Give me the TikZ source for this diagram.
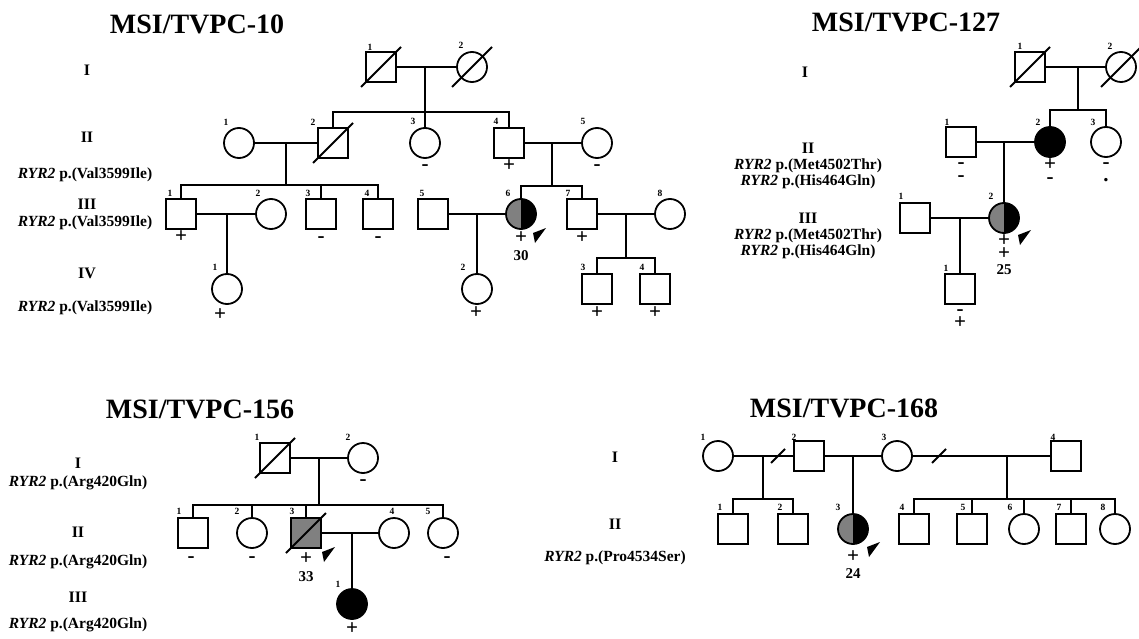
\documentclass[tikz,border=0pt]{standalone}
\usepackage{fontspec}
\setmainfont{Liberation Serif}
\usetikzlibrary{calc}
\definecolor{cgrey}{HTML}{808080}
\newcommand\decd[1]{\draw[ln] ($(#1.center)+(-20,20)$) -- ($(#1.center)+(20,-20)$);}
\newcommand\divs[1]{\draw[ln] ($(#1)+(-7,7)$) -- ($(#1)+(7,-7)$);}
\newcommand\prob[2]{\fill ($(#1)+#2$) -- ++(13,-5) -- ++(-11,15) -- cycle;}
\begin{document}
\begin{tikzpicture}[x=1pt,y=-1pt,
  ln/.style={line width=1.8pt},
  sym/.style={draw, line width=1.8pt, inner sep=0pt, outer sep=0pt, fill=white},
  male/.style={sym, rectangle, minimum size=30pt},
  female/.style={sym, circle, minimum size=30pt},
  aff/.style={fill=black},
  carr/.style={fill=cgrey},
  half/.style={path picture={\fill[cgrey] (path picture bounding box.south west) rectangle (path picture bounding box.north); \fill[black] (path picture bounding box.south) rectangle (path picture bounding box.north east);}},
  idn/.style={font=\bfseries\fontsize{9.5}{9.5}\selectfont, inner sep=0pt},
  mk/.style={font=\bfseries\fontsize{21}{21}\selectfont, inner sep=0pt},
  mk2/.style={font=\bfseries\fontsize{21}{12.5}\selectfont, inner sep=0pt, align=center},
  age/.style={font=\bfseries\fontsize{15}{15}\selectfont, inner sep=0pt},
  gen/.style={font=\bfseries\fontsize{16}{16}\selectfont, inner sep=0pt},
  var/.style={font=\bfseries\fontsize{15.5}{15.5}\selectfont, inner sep=0pt},
  ttl/.style={font=\bfseries\fontsize{28}{28}\selectfont, inner sep=0pt},
]
\fill[white] (0,0) rectangle (1139,639);
\useasboundingbox (0,0) rectangle (1139,639);

% ---------- titles
\node[ttl] (t1) at (197,24) {MSI/TVPC-10};
\node[ttl] (t2) at (906,22) {MSI/TVPC-127};
\node[ttl] (t3) at (200,409) {MSI/TVPC-156};
\node[ttl] (t4) at (844,408) {MSI/TVPC-168};

% ================= TVPC-10
\node[gen] (g1a) at (87,70) {I};
\node[gen] (g1b) at (87,137) {II};
\node[var] (v1b) at (85,175) {\textit{RYR2} p.(Val3599Ile)};
\node[gen] (g1c) at (87,204) {III};
\node[var] (v1c) at (85,223) {\textit{RYR2} p.(Val3599Ile)};
\node[gen] (g1d) at (87,273) {IV};
\node[var] (v1d) at (85,308) {\textit{RYR2} p.(Val3599Ile)};

\node[male] (a1) at (381,67) {};
\node[female] (a2) at (472,67) {};
\node[female] (b1) at (239,143) {};
\node[male] (b2) at (333,143) {};
\node[female] (b3) at (425,143) {};
\node[male] (b4) at (509,143) {};
\node[female] (b5) at (597,143) {};
\node[male] (c1) at (181,214) {};
\node[female] (c2) at (271,214) {};
\node[male] (c3) at (321,214) {};
\node[male] (c4) at (378,214) {};
\node[male] (c5) at (433,214) {};
\node[female,half] (c6) at (521,214) {};
\node[male] (c7) at (582,214) {};
\node[female] (c8) at (670,214) {};
\node[female] (d1) at (227,289) {};
\node[female] (d2) at (477,289) {};
\node[male] (d3) at (597,289) {};
\node[male] (d4) at (655,289) {};

\coordinate (ma) at (425,67); \coordinate (sa) at (425,112);
\draw[ln] (a1) -- (a2); \draw[ln] (ma) -- (sa);
\draw[ln] (b2.north) -- (b2 |- sa) -- (b4 |- sa) -- (b4.north);
\draw[ln] (b3 |- sa) -- (b3.north);
\coordinate (mb) at (286,143); \coordinate (sb) at (286,185);
\draw[ln] (b1) -- (b2); \draw[ln] (mb) -- (sb);
\draw[ln] (c1.north) -- (c1 |- sb) -- (c4 |- sb) -- (c4.north);
\draw[ln] (c3 |- sb) -- (c3.north);
\coordinate (mb2) at (552,143); \coordinate (sb2) at (552,186);
\draw[ln] (b4) -- (b5); \draw[ln] (mb2) -- (sb2);
\draw[ln] (c6.north) -- (c6 |- sb2) -- (c7 |- sb2) -- (c7.north);
\coordinate (mc1) at (227,214);
\draw[ln] (c1) -- (c2); \draw[ln] (mc1) -- (d1.north);
\coordinate (mc2) at (477,214);
\draw[ln] (c5) -- (c6); \draw[ln] (mc2) -- (d2.north);
\coordinate (mc3) at (626,214); \coordinate (sc3) at (626,258);
\draw[ln] (c7) -- (c8); \draw[ln] (mc3) -- (sc3);
\draw[ln] (d3.north) -- (d3 |- sc3) -- (d4 |- sc3) -- (d4.north);
\decd{a1} \decd{a2} \decd{b2}
\prob{c6}{(12,19)}

\node[idn] (a1n) at (370,47) {1};
\node[idn] (a2n) at (461,45) {2};
\node[idn] (b1n) at (226,122) {1};
\node[idn] (b2n) at (313,122) {2};
\node[idn] (b3n) at (413,121) {3};
\node[idn] (b4n) at (496,121) {4};
\node[idn] (b5n) at (583,121) {5};
\node[idn] (c1n) at (170,193) {1};
\node[idn] (c2n) at (258,193) {2};
\node[idn] (c3n) at (308,193) {3};
\node[idn] (c4n) at (367,193) {4};
\node[idn] (c5n) at (422,193) {5};
\node[idn] (c6n) at (508,193) {6};
\node[idn] (c7n) at (568,193) {7};
\node[idn] (c8n) at (660,193) {8};
\node[idn] (d1n) at (215,267) {1};
\node[idn] (d2n) at (463,267) {2};
\node[idn] (d3n) at (583,267) {3};
\node[idn] (d4n) at (642,267) {4};

\node[mk] (b3m) at (425,168) {-};
\node[mk] (b4m) at (509,166) {+};
\node[mk] (b5m) at (597,168) {-};
\node[mk] (c1m) at (181,237) {+};
\node[mk] (c3m) at (321,240) {-};
\node[mk] (c4m) at (378,240) {-};
\node[mk] (c6m) at (521,238) {+};
\node[age] (c6a) at (521,256) {30};
\node[mk] (c7m) at (582,238) {+};
\node[mk] (d1m) at (220,315) {+};
\node[mk] (d2m) at (476,313) {+};
\node[mk] (d3m) at (597,313) {+};
\node[mk] (d4m) at (655,313) {+};

% ================= TVPC-127
\node[gen] (g2a) at (805,72) {I};
\node[gen] (g2b) at (808,148) {II};
\node[var] (v2b1) at (808,166) {\textit{RYR2} p.(Met4502Thr)};
\node[var] (v2b2) at (808,182) {\textit{RYR2} p.(His464Gln)};
\node[gen] (g2c) at (808,218) {III};
\node[var] (v2c1) at (808,236) {\textit{RYR2} p.(Met4502Thr)};
\node[var] (v2c2) at (808,252) {\textit{RYR2} p.(His464Gln)};

\node[male] (e1) at (1030,67) {};
\node[female] (e2) at (1121,67) {};
\node[male] (f1) at (961,142) {};
\node[female,aff] (f2) at (1050,142) {};
\node[female] (f3) at (1106,142) {};
\node[male] (g1) at (915,218) {};
\node[female,half] (g2) at (1004,218) {};
\node[male] (h1) at (960,289) {};

\coordinate (me) at (1078,67); \coordinate (se) at (1078,110);
\draw[ln] (e1) -- (e2); \draw[ln] (me) -- (se);
\draw[ln] (f2.north) -- (f2 |- se) -- (f3 |- se) -- (f3.north);
\coordinate (mf) at (1004,142);
\draw[ln] (f1) -- (f2); \draw[ln] (mf) -- (g2.north);
\coordinate (mg) at (960,218);
\draw[ln] (g1) -- (g2); \draw[ln] (mg) -- (h1.north);
\decd{e1} \decd{e2}
\prob{g2}{(14,17)}

\node[idn] (e1n) at (1020,46) {1};
\node[idn] (e2n) at (1110,46) {2};
\node[idn] (f1n) at (947,122) {1};
\node[idn] (f2n) at (1038,122) {2};
\node[idn] (f3n) at (1093,122) {3};
\node[idn] (g1n) at (901,196) {1};
\node[idn] (g2n) at (991,196) {2};
\node[idn] (h1n) at (946,268) {1};

\node[mk2] (f1m) at (961,172) {-\\-};
\node[mk2] (f2m) at (1050,171) {+\\-};
\node[mk2] (f3m) at (1106,172) {-\\.};
\node[mk2] (g2m) at (1004,247) {+\\+};
\node[age] (g2a) at (1004,270) {25};
\node[mk2] (h1m) at (960,319) {-\\+};

% ================= TVPC-156
\node[gen] (g3a) at (78,463) {I};
\node[var] (v3a) at (78,483) {\textit{RYR2} p.(Arg420Gln)};
\node[gen] (g3b) at (78,532) {II};
\node[var] (v3b) at (78,562) {\textit{RYR2} p.(Arg420Gln)};
\node[gen] (g3c) at (78,597) {III};
\node[var] (v3c) at (78,625) {\textit{RYR2} p.(Arg420Gln)};

\node[male] (i1) at (275,458) {};
\node[female] (i2) at (363,458) {};
\node[male] (j1) at (193,533) {};
\node[female] (j2) at (252,533) {};
\node[male,carr] (j3) at (306,533) {};
\node[female] (j4) at (394,533) {};
\node[female] (j5) at (443,533) {};
\node[female,aff] (k1) at (352,604) {};

\coordinate (mi) at (319,458); \coordinate (si) at (319,505);
\draw[ln] (i1) -- (i2); \draw[ln] (mi) -- (si);
\draw[ln] (j1.north) -- (j1 |- si) -- (j5 |- si) -- (j5.north);
\draw[ln] (j2 |- si) -- (j2.north);
\draw[ln] (j3 |- si) -- (j3.north);
\coordinate (mj) at (352,533);
\draw[ln] (j3) -- (j4); \draw[ln] (mj) -- (k1.north);
\decd{i1} \decd{j3}
\prob{j3}{(16,19)}

\node[idn] (i1n) at (257,437) {1};
\node[idn] (i2n) at (348,437) {2};
\node[idn] (j1n) at (179,511) {1};
\node[idn] (j2n) at (237,511) {2};
\node[idn] (j3n) at (292,511) {3};
\node[idn] (j4n) at (392,511) {4};
\node[idn] (j5n) at (428,511) {5};
\node[idn] (k1n) at (338,584) {1};

\node[mk] (i2m) at (363,483) {-};
\node[mk] (j1m) at (191,560) {-};
\node[mk] (j2m) at (252,560) {-};
\node[mk] (j3m) at (306,559) {+};
\node[age] (j3a) at (306,577) {33};
\node[mk] (j5m) at (447,560) {-};
\node[mk] (k1m) at (352,629) {+};

% ================= TVPC-168
\node[gen] (g4a) at (615,457) {I};
\node[gen] (g4b) at (615,524) {II};
\node[var] (v4b) at (615,558) {\textit{RYR2} p.(Pro4534Ser)};

\node[female] (n1) at (718,456) {};
\node[male] (n2) at (809,456) {};
\node[female] (n3) at (897,456) {};
\node[male] (n4) at (1066,456) {};
\node[male] (o1) at (733,529) {};
\node[male] (o2) at (793,529) {};
\node[female,half] (o3) at (853,529) {};
\node[male] (o4) at (914,529) {};
\node[male] (o5) at (972,529) {};
\node[female] (o6) at (1024,529) {};
\node[male] (o7) at (1071,529) {};
\node[female] (o8) at (1115,529) {};

\coordinate (mn1) at (763,456); \coordinate (sn1) at (763,499);
\coordinate (dv1) at (778,456);
\draw[ln] (n1) -- (n2); \draw[ln] (mn1) -- (sn1);
\draw[ln] (o1.north) -- (o1 |- sn1) -- (o2 |- sn1) -- (o2.north);
\divs{dv1}
\coordinate (mn2) at (853,456);
\draw[ln] (n2) -- (n3); \draw[ln] (mn2) -- (o3.north);
\coordinate (mn3) at (1007,456); \coordinate (sn3) at (1007,499);
\coordinate (dv2) at (939,456);
\draw[ln] (n3) -- (n4); \draw[ln] (mn3) -- (sn3);
\draw[ln] (o4.north) -- (o4 |- sn3) -- (o8 |- sn3) -- (o8.north);
\draw[ln] (o5 |- sn3) -- (o5.north);
\draw[ln] (o6 |- sn3) -- (o6.north);
\draw[ln] (o7 |- sn3) -- (o7.north);
\divs{dv2}
\prob{o3}{(14,18)}

\node[idn] (n1n) at (703,437) {1};
\node[idn] (n2n) at (794,437) {2};
\node[idn] (n3n) at (884,437) {3};
\node[idn] (n4n) at (1053,437) {4};
\node[idn] (o1n) at (720,507) {1};
\node[idn] (o2n) at (780,507) {2};
\node[idn] (o3n) at (838,507) {3};
\node[idn] (o4n) at (902,507) {4};
\node[idn] (o5n) at (963,507) {5};
\node[idn] (o6n) at (1010,507) {6};
\node[idn] (o7n) at (1059,507) {7};
\node[idn] (o8n) at (1103,507) {8};

\node[mk] (o3m) at (853,557) {+};
\node[age] (o3a) at (853,574) {24};
\end{tikzpicture}
\end{document}
